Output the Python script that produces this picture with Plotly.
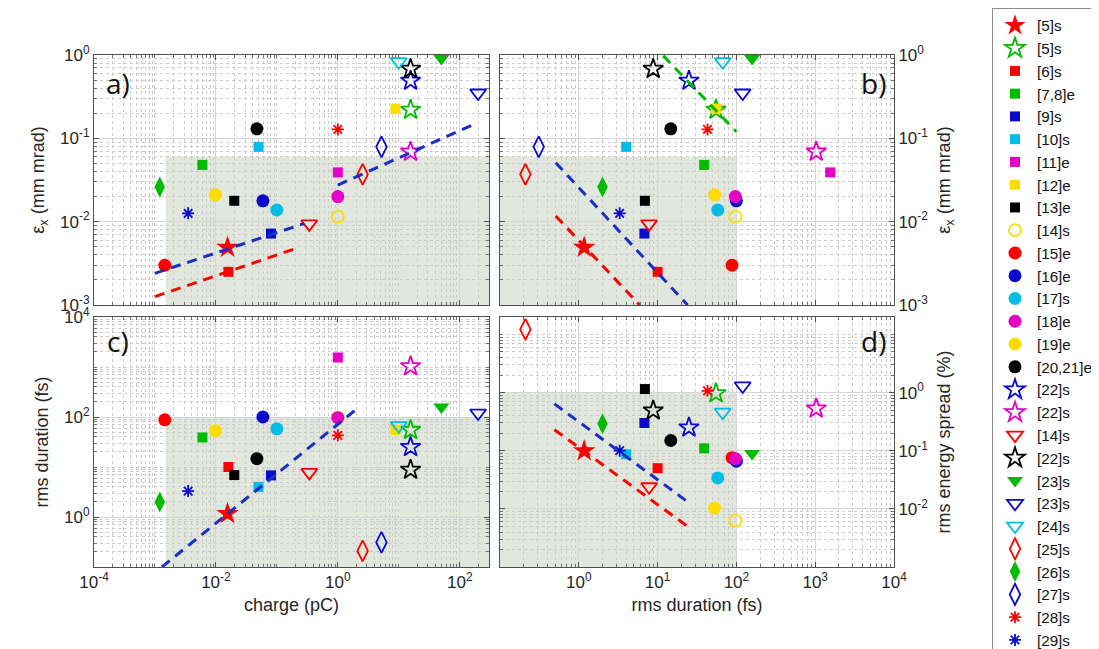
import plotly.graph_objects as go

# ---------------- data ----------------
labels = ["[5]s", "[5]s", "[6]s", "[7,8]e", "[9]s", "[10]s", "[11]e", "[12]e", "[13]e",
          "[14]s", "[15]e", "[16]e", "[17]s", "[18]e", "[19]e", "[20,21]e", "[22]s",
          "[22]s", "[14]s", "[22]s", "[23]s", "[23]s", "[24]s", "[25]s", "[26]s",
          "[27]s", "[28]s", "[29]s"]
charge_pC = [0.0155, 15.6, 0.016, 0.006, 0.08, 0.05, 1.0, 8.8, 0.02,
             1.0, 0.00145, 0.059, 0.1, 1.0, 0.0098, 0.047, 15.6,
             15.6, 0.34, 15.6, 50, 200, 10, 2.55, 0.0012,
             5.2, 1.0, 0.0035]
emittance_mm_mrad = [0.0049, 0.22, 0.0025, 0.048, 0.0072, 0.079, 0.039, 0.226, 0.0178,
                     0.0115, 0.003, 0.0178, 0.0138, 0.02, 0.021, 0.13, 0.49,
                     0.069, 0.0094, 0.68, 0.91, 0.35, 0.83, 0.037, 0.026,
                     0.079, 0.128, 0.0126]
duration_fs = [1.17, 55, 10, 39, 6.8, 4.0, 1550, 55, 6.9,
               97, 88, 100, 58, 97, 53, 14.7, 25,
               1030, 7.8, 8.8, 158, 120, 67, 0.21, 2.0,
               0.31, 43, 3.3]
energy_spread_pct = [0.099, 0.97, 0.05, 0.11, 0.30, 0.087, None, None, 1.15,
                     0.0063, 0.076, 0.066, 0.034, 0.073, 0.0103, 0.15, 0.25,
                     0.53, 0.024, 0.49, 0.09, 1.3, 0.46, 12.2, 0.29,
                     None, 1.07, 0.1]

# dashed scaling lines (start, end)
a_blue1_x, a_blue1_y = [0.001, 0.28], [0.0024, 0.0095]
a_blue2_x, a_blue2_y = [1.0, 166], [0.0275, 0.146]
a_red_x, a_red_y = [0.001, 0.21], [0.00126, 0.0048]
b_green_x, b_green_y = [11.8, 100], [0.98, 0.12]
b_blue_x, b_blue_y = [0.51, 24], [0.051, 0.001]
b_red_x, b_red_y = [0.51, 5.9], [0.0117, 0.001]
c_blue_x, c_blue_y = [0.0013, 1.9], [0.1, 135]
d_blue_x, d_blue_y = [0.49, 24.5], [0.64, 0.013]
d_red_x, d_red_y = [0.49, 24.5], [0.23, 0.0049]

# target regions (shaded)
charge_min_pC = 1.5e-3
emittance_max = 0.06
duration_max_fs = 100
duration_target_max_fs = 100
espread_max_pct = 1.0

# tick labels
xa_vals = [1e-4, 1e-2, 1e0, 1e2]
xa_text = ["10<sup>-4</sup>", "10<sup>-2</sup>", "10<sup>0</sup>", "10<sup>2</sup>"]
xb_vals = [1e0, 1e1, 1e2, 1e3, 1e4]
xb_text = ["10<sup>0</sup>", "10<sup>1</sup>", "10<sup>2</sup>", "10<sup>3</sup>", "10<sup>4</sup>"]
ya_vals = [1e-3, 1e-2, 1e-1, 1e0]
ya_text = ["10<sup>-3</sup>", "10<sup>-2</sup>", "10<sup>-1</sup>", "10<sup>0</sup>"]
yc_vals = [1e0, 1e2, 1e4]
yc_text = ["10<sup>0</sup>", "10<sup>2</sup>", "10<sup>4</sup>"]
yd_vals = [1e-2, 1e-1, 1e0]
yd_text = ["10<sup>-2</sup>", "10<sup>-1</sup>", "10<sup>0</sup>"]

# ---------------- styles ----------------
RED, GREEN, BLUE, CYAN = "#ff0000", "#00bb00", "#0a0acc", "#00bde8"
MAG, YEL, BLK = "#e400c4", "#ffdc00", "#000000"
colors = [RED, GREEN, RED, GREEN, BLUE, CYAN, MAG, YEL, BLK,
          YEL, RED, BLUE, CYAN, MAG, YEL, BLK, BLUE,
          MAG, RED, BLK, GREEN, BLUE, CYAN, RED, GREEN,
          BLUE, RED, BLUE]
symbols = ["star", "star-open", "square", "square", "square", "square", "square", "square", "square",
           "circle-open", "circle", "circle", "circle", "circle", "circle", "circle", "star-open",
           "star-open", "triangle-down-open", "star-open", "triangle-down", "triangle-down-open",
           "triangle-down-open", "diamond-tall-open", "diamond-tall", "diamond-tall-open",
           "asterisk-open", "asterisk-open"]
size_by_symbol = {"star": 17, "star-open": 15, "square": 10, "circle": 13, "circle-open": 12,
                  "triangle-down": 14, "triangle-down-open": 14, "diamond-tall": 15,
                  "diamond-tall-open": 15, "asterisk-open": 10}

W, H = 1099, 649
def px_x(a, b):
    return [a / W, b / W]
def px_y(top, bottom):
    return [1 - bottom / H, 1 - top / H]

fig = go.Figure()

panels = [  # (xaxis, yaxis, xvalues, yvalues)
    ("x", "y", charge_pC, emittance_mm_mrad),
    ("x2", "y2", duration_fs, emittance_mm_mrad),
    ("x3", "y3", charge_pC, duration_fs),
    ("x4", "y4", duration_fs, energy_spread_pct),
]

for i, lab in enumerate(labels):
    sym = symbols[i]
    col = colors[i]
    is_open = sym.endswith("-open")
    marker = dict(symbol=sym, size=size_by_symbol[sym], color=col,
                  line=dict(color=col, width=1.8 if is_open else 0))
    for k, (xa, ya, xs, ys) in enumerate(panels):
        if ys[i] is None or xs[i] is None:
            xv, yv = [], []
        else:
            xv, yv = [xs[i]], [ys[i]]
        fig.add_trace(go.Scatter(x=xv, y=yv, mode="markers", marker=marker, name=lab,
                                 xaxis=xa, yaxis=ya, showlegend=(k == 0),
                                 cliponaxis=False, hoverinfo="skip"))

def dashed(xs, ys, col, xa, ya):
    fig.add_trace(go.Scatter(x=xs, y=ys, mode="lines", xaxis=xa, yaxis=ya,
                             line=dict(color=col, width=3, dash="10px,7px"),
                             showlegend=False, hoverinfo="skip"))

LBLUE = "#1a2ec8"
dashed(a_blue1_x, a_blue1_y, LBLUE, "x", "y")
dashed(a_blue2_x, a_blue2_y, LBLUE, "x", "y")
dashed(a_red_x, a_red_y, RED, "x", "y")
dashed(b_green_x, b_green_y, GREEN, "x2", "y2")
dashed(b_blue_x, b_blue_y, LBLUE, "x2", "y2")
dashed(b_red_x, b_red_y, RED, "x2", "y2")
dashed(c_blue_x, c_blue_y, LBLUE, "x3", "y3")
dashed(d_blue_x, d_blue_y, LBLUE, "x4", "y4")
dashed(d_red_x, d_red_y, RED, "x4", "y4")

SHADE = "#e1e7dc"
def shade(xref, yref, x0, x1, y0, y1):
    fig.add_shape(type="rect", xref=xref, yref=yref, x0=x0, x1=x1, y0=y0, y1=y1,
                  fillcolor=SHADE, line=dict(width=0), layer="below")

shade("x", "y", charge_min_pC, 1e4, 1e-5, emittance_max)
shade("x2", "y2", 1e-3, duration_max_fs, 1e-5, emittance_max)
shade("x3", "y3", charge_min_pC, 1e4, 1e-3, duration_target_max_fs)
shade("x4", "y4", 1e-3, duration_max_fs, 1e-5, espread_max_pct)

TICKFONT = dict(family="Liberation Sans, Arial, sans-serif", size=17, color="#262626")
TITLEFONT = dict(family="Liberation Sans, Arial, sans-serif", size=18, color="#262626")

def axis(domain, rng, vals, text, show_labels=True, side=None, title=None, standoff=8):
    d = dict(type="log", domain=domain, range=rng, tickmode="array", tickvals=vals,
             ticktext=text, showticklabels=show_labels, showline=True, linecolor="#505050",
             linewidth=1, mirror="ticks", ticks="inside", ticklen=5, tickcolor="#505050",
             showgrid=True, gridcolor="#d6d6d6", gridwidth=1, zeroline=False,
             automargin=False, tickfont=TICKFONT,
             minor=dict(dtick="D1", ticks="inside", ticklen=3, tickcolor="#707070",
                        showgrid=True, gridcolor="#cccccc", griddash="dot", gridwidth=1))
    if side:
        d["side"] = side
    if title:
        d["title"] = dict(text=title, font=TITLEFONT, standoff=standoff)
    return d

xdomL = px_x(86, 481)
xdomR = px_x(492, 886)
ydomT = px_y(47, 297)
ydomB = px_y(309, 559)

fig.update_layout(
    width=W, height=H, margin=dict(l=0, r=0, t=0, b=0),
    paper_bgcolor="white", plot_bgcolor="white",
    xaxis=axis(xdomL, [-4, 2.48], xa_vals, xa_text, show_labels=False),
    yaxis=axis(ydomT, [-3, 0], ya_vals, ya_text, title="ε<sub>x</sub> (mm mrad)", standoff=10),
    xaxis2=dict(axis(xdomR, [-1, 4], xb_vals, xb_text, show_labels=False), anchor="y2"),
    yaxis2=dict(axis(ydomT, [-3, 0], ya_vals, ya_text, side="right",
                     title="ε<sub>x</sub> (mm mrad)", standoff=10), anchor="x2"),
    xaxis3=dict(axis(xdomL, [-4, 2.48], xa_vals, xa_text, title="charge (pC)", standoff=6), anchor="y3"),
    yaxis3=dict(axis(ydomB, [-1, 4], yc_vals, yc_text, title="rms duration (fs)", standoff=10), anchor="x3"),
    xaxis4=dict(axis(xdomR, [-1, 4], xb_vals, xb_text, title="rms duration (fs)", standoff=6), anchor="y4"),
    yaxis4=dict(axis(ydomB, [-3, 1.3], yd_vals, yd_text, side="right",
                     title="rms energy spread (%)", standoff=10), anchor="x4"),
    legend=dict(x=984 / W, y=1 - 4 / H, xanchor="left", yanchor="top",
                font=dict(family="Liberation Sans, Arial, sans-serif", size=15.2, color="#111111"),
                bordercolor="#8c8c8c", borderwidth=1, bgcolor="white",
                itemwidth=34, tracegroupgap=0, traceorder="normal"),
    showlegend=True,
)
fig.layout.xaxis.anchor = "y"
fig.layout.yaxis.anchor = "x"

PANEL_FONT = dict(family="Open Sans, sans-serif", size=28, color="#111111")
for txt, xp, yp in [("a)", 96, 75), ("b)", 851, 75), ("c)", 97, 333), ("d)", 851, 333)]:
    fig.add_annotation(text=txt, xref="paper", yref="paper", x=xp / W, y=1 - yp / H,
                       xanchor="left", yanchor="middle", showarrow=False, font=PANEL_FONT)

fig.write_html("out.html")
